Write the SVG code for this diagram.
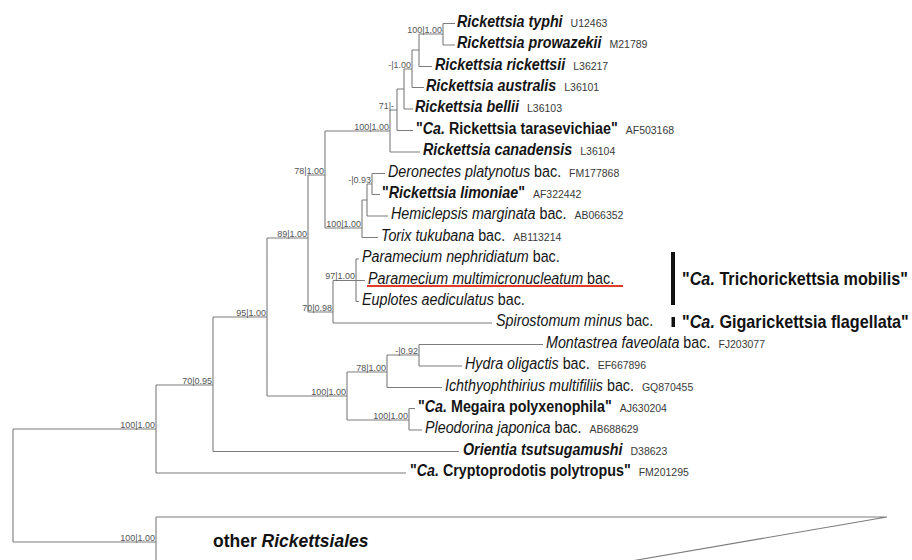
<svg xmlns="http://www.w3.org/2000/svg" width="912" height="560" viewBox="0 0 912 560">
<style>
.br{stroke:#7c7c7c;stroke-width:1.1;fill:none}
.tx{font-family:"Liberation Sans",Arial,sans-serif;font-size:14.3px;fill:#141414}
.b{font-weight:bold}
.i{font-style:italic}
.acc{font-size:10.5px;fill:#3a3a3a;font-weight:normal;font-style:normal}
.sup{font-family:"Liberation Sans",Arial,sans-serif;font-size:9px;fill:#555;text-anchor:end}
.big{font-family:"Liberation Sans",Arial,sans-serif;font-size:16.2px;font-weight:bold;fill:#111}
.other{font-family:"Liberation Sans",Arial,sans-serif;font-size:17.5px;font-weight:bold;fill:#111}
</style>
<rect width="912" height="560" fill="#fff"/>
<g id="connectors" class="br">
<path d="M13 429V542M13 429H156M13 542H156
M156 385V473M156 473H406
M156 385H213M213 317V451.5M213 451.5H459
M213 317H267M267 238V396
M267 238H308M308 175V312
M308 175H325M325 131V228
M325 131H390M390 110V152M390 152H420
M390 110H397M397 89V130.5M397 130.5H413
M397 89H404M404 69V109M404 109H413
M404 69H412M412 50V87.5M412 87.5H424
M412 50H419M419 34V66.5M419 66.5H432
M419 34H443M443 23.5V45M443 23.5H455M443 45H455
M325 228H362M362 200V237.5M362 237.5H378
M362 200H367M367 184V216M367 216H388
M367 184H372M372 173.5V194.5M372 173.5H385M372 194.5H380
M308 312H333M333 280.5V323M333 323H492
M333 280.5H365M356 259V301.5M356 259H359M356 301.5H359
M267 396H347M347 372V420
M347 372H387M387 355V387.5M387 387.5H442
M387 355H419M419 344.5V366M419 344.5H543M419 366H462
M347 420H409M409 408.5V430M409 408.5H415M409 430H422
M156 517V600M156 517H887L500 583.6"/>
</g>
<g id="marks">
<line x1="367" y1="286" x2="623" y2="286" stroke="#e23b26" stroke-width="2.2"/>
<rect x="671" y="252" width="4" height="53" fill="#111"/>
<rect x="671.5" y="317" width="3.5" height="10" fill="#111"/>
</g>
<g id="support">
<text class="sup" transform="translate(442 32.5) scale(1 1.1)">100|1.00</text>
<text class="sup" transform="translate(411 67.5) scale(1 1.1)">-|1.00</text>
<text class="sup" transform="translate(394 108.5) scale(1 1.1)">71|-</text>
<text class="sup" transform="translate(389 129.5) scale(1 1.1)">100|1.00</text>
<text class="sup" transform="translate(324 173.5) scale(1 1.1)">78|1.00</text>
<text class="sup" transform="translate(371 182.5) scale(1 1.1)">-|0.93</text>
<text class="sup" transform="translate(361 226.5) scale(1 1.1)">100|1.00</text>
<text class="sup" transform="translate(307 236.5) scale(1 1.1)">89|1.00</text>
<text class="sup" transform="translate(355 279) scale(1 1.1)">97|1.00</text>
<text class="sup" transform="translate(332 310.5) scale(1 1.1)">70|0.98</text>
<text class="sup" transform="translate(266 315.5) scale(1 1.1)">95|1.00</text>
<text class="sup" transform="translate(346 394.5) scale(1 1.1)">100|1.00</text>
<text class="sup" transform="translate(386 370.5) scale(1 1.1)">78|1.00</text>
<text class="sup" transform="translate(418 353.5) scale(1 1.1)">-|0.92</text>
<text class="sup" transform="translate(408 418.5) scale(1 1.1)">100|1.00</text>
<text class="sup" transform="translate(212 383.5) scale(1 1.1)">70|0.95</text>
<text class="sup" transform="translate(155 427.5) scale(1 1.1)">100|1.00</text>
<text class="sup" transform="translate(155 540.5) scale(1 1.1)">100|1.00</text>
</g>
<g id="leaf-typhi"><text class="tx" transform="translate(457 26.5) scale(1 1.1)"><tspan class="b i">Rickettsia typhi</tspan><tspan class="acc" dx="8">U12463</tspan></text></g>
<g id="leaf-prowazekii"><text class="tx" transform="translate(457 48) scale(1 1.1)"><tspan class="b i">Rickettsia prowazekii</tspan><tspan class="acc" dx="8">M21789</tspan></text></g>
<g id="leaf-rickettsii"><text class="tx" transform="translate(435 69.5) scale(1 1.1)"><tspan class="b i">Rickettsia rickettsii</tspan><tspan class="acc" dx="8">L36217</tspan></text></g>
<g id="leaf-australis"><text class="tx" transform="translate(426 90.5) scale(1 1.1)"><tspan class="b i">Rickettsia australis</tspan><tspan class="acc" dx="8">L36101</tspan></text></g>
<g id="leaf-bellii"><text class="tx" transform="translate(415 112) scale(1 1.1)"><tspan class="b i">Rickettsia bellii</tspan><tspan class="acc" dx="8">L36103</tspan></text></g>
<g id="leaf-tarasevichiae"><text class="tx" transform="translate(416 133.5) scale(1 1.1)"><tspan class="b">"</tspan><tspan class="b i">Ca.</tspan><tspan class="b"> Rickettsia tarasevichiae"</tspan><tspan class="acc" dx="8">AF503168</tspan></text></g>
<g id="leaf-canadensis"><text class="tx" transform="translate(423 155) scale(1 1.1)"><tspan class="b i">Rickettsia canadensis</tspan><tspan class="acc" dx="8">L36104</tspan></text></g>
<g id="leaf-deronectes"><text class="tx" transform="translate(388 176.5) scale(1 1.1)"><tspan class="i">Deronectes platynotus</tspan> bac.<tspan class="acc" dx="8">FM177868</tspan></text></g>
<g id="leaf-limoniae"><text class="tx" transform="translate(382 197.5) scale(1 1.1)"><tspan class="b">"</tspan><tspan class="b i">Rickettsia limoniae</tspan><tspan class="b">"</tspan><tspan class="acc" dx="8">AF322442</tspan></text></g>
<g id="leaf-hemiclepsis"><text class="tx" transform="translate(391 219) scale(1 1.1)"><tspan class="i">Hemiclepsis marginata</tspan> bac.<tspan class="acc" dx="8">AB066352</tspan></text></g>
<g id="leaf-torix"><text class="tx" transform="translate(381 240.5) scale(1 1.1)"><tspan class="i">Torix tukubana</tspan> bac.<tspan class="acc" dx="8">AB113214</tspan></text></g>
<g id="leaf-pnephridiatum"><text class="tx" transform="translate(362 262) scale(1 1.1)"><tspan class="i">Paramecium nephridiatum</tspan> bac.</text></g>
<g id="leaf-pmultimicronucleatum"><text class="tx" transform="translate(368 283.5) scale(1 1.1)"><tspan class="i">Paramecium multimicronucleatum</tspan> bac.</text></g>
<g id="leaf-euplotes"><text class="tx" transform="translate(362 304.5) scale(1 1.1)"><tspan class="i">Euplotes aediculatus</tspan> bac.</text></g>
<g id="leaf-spirostomum"><text class="tx" transform="translate(496 326) scale(1 1.1)"><tspan class="i">Spirostomum minus</tspan> bac.</text></g>
<g id="leaf-montastrea"><text class="tx" transform="translate(546 347.5) scale(1 1.1)"><tspan class="i">Montastrea faveolata</tspan> bac.<tspan class="acc" dx="8">FJ203077</tspan></text></g>
<g id="leaf-hydra"><text class="tx" transform="translate(465 369) scale(1 1.1)"><tspan class="i">Hydra oligactis</tspan> bac.<tspan class="acc" dx="8">EF667896</tspan></text></g>
<g id="leaf-ichthyophthirius"><text class="tx" transform="translate(445 390.5) scale(1 1.1)"><tspan class="i">Ichthyophthirius multifiliis</tspan> bac.<tspan class="acc" dx="8">GQ870455</tspan></text></g>
<g id="leaf-megaira"><text class="tx" transform="translate(418 411.5) scale(1 1.1)"><tspan class="b">"</tspan><tspan class="b i">Ca.</tspan><tspan class="b"> Megaira polyxenophila"</tspan><tspan class="acc" dx="8">AJ630204</tspan></text></g>
<g id="leaf-pleodorina"><text class="tx" transform="translate(425 433) scale(1 1.1)"><tspan class="i">Pleodorina japonica</tspan> bac.<tspan class="acc" dx="8">AB688629</tspan></text></g>
<g id="leaf-orientia"><text class="tx" transform="translate(463 454.5) scale(1 1.1)"><tspan class="b i">Orientia tsutsugamushi</tspan><tspan class="acc" dx="8">D38623</tspan></text></g>
<g id="leaf-cryptoprodotis"><text class="tx" transform="translate(410 476) scale(1 1.1)"><tspan class="b">"</tspan><tspan class="b i">Ca.</tspan><tspan class="b"> Cryptoprodotis polytropus"</tspan><tspan class="acc" dx="8">FM201295</tspan></text></g>
<g id="clade-other"><text class="other" transform="translate(213 547) scale(1 1.1)">other <tspan class="i">Rickettsiales</tspan></text></g>
<g id="label-trichorickettsia"><text class="big" transform="translate(682 285) scale(1 1.1)">"<tspan class="i">Ca.</tspan> Trichorickettsia mobilis"</text></g>
<g id="label-gigarickettsia"><text class="big" transform="translate(682 327.5) scale(1 1.1)">"<tspan class="i">Ca.</tspan> Gigarickettsia flagellata"</text></g>
</svg>
